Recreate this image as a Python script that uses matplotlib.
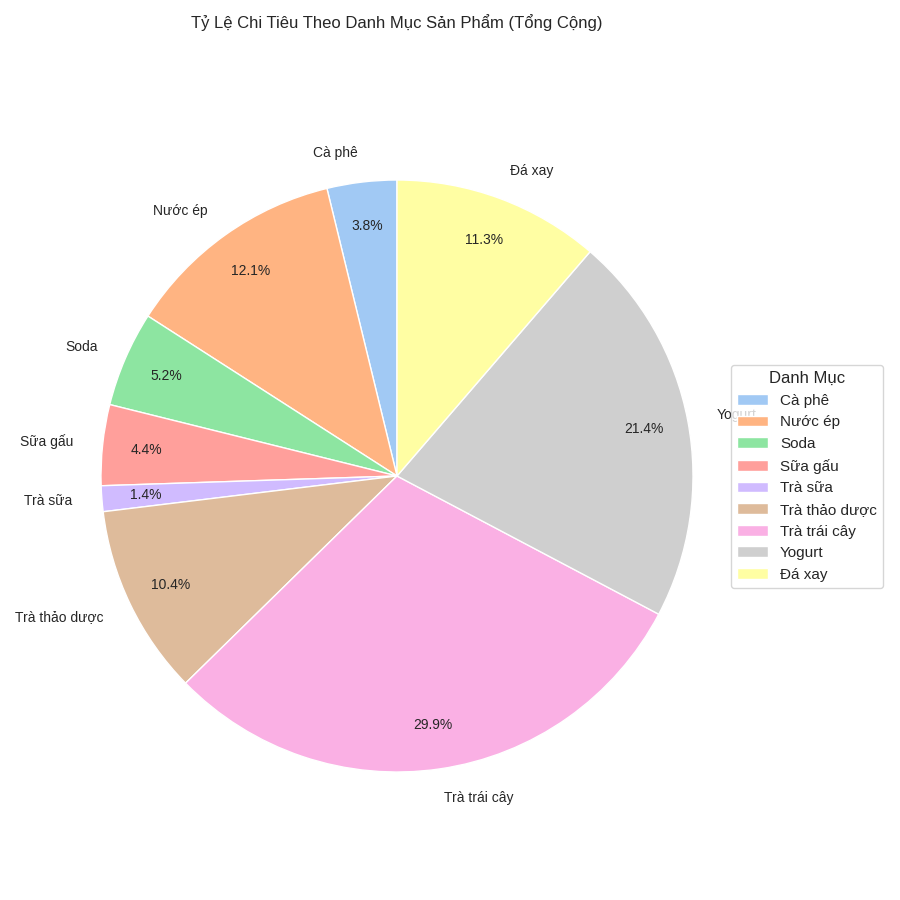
import matplotlib
matplotlib.use("Agg")
import matplotlib.pyplot as plt
import seaborn as sns

sns.set_style("whitegrid")
plt.rcParams['font.family'] = ['Liberation Sans', 'DejaVu Sans']

# danh muc va ty le chi tieu (%)
categories = ["Cà phê", "Nước ép", "Soda", "Sữa gấu", "Trà sữa",
              "Trà thảo dược", "Trà trái cây", "Yogurt", "Đá xay"]
shares = [3.8, 12.1, 5.2, 4.4, 1.4, 10.4, 29.9, 21.4, 11.3]

colors = sns.color_palette("pastel", len(categories))

fig = plt.figure(figsize=(9, 9), dpi=100)
# pie center ~ (397, 476) px, radius ~296 px
ax = fig.add_axes([27 / 900, (900 - 846) / 900, 740 / 900, 740 / 900])

wedges, texts, autotexts = ax.pie(
    shares, labels=categories, colors=colors, autopct="%1.1f%%",
    startangle=90, pctdistance=0.85, labeldistance=1.1,
    wedgeprops=dict(edgecolor="white", linewidth=1),
    textprops=dict(fontsize=10, color="#262626"))

ax.set_title("Tỷ Lệ Chi Tiêu Theo Danh Mục Sản Phẩm (Tổng Cộng)",
             fontsize=12, pad=56, color="#262626")

leg = ax.legend(wedges, categories, title="Danh Mục", loc="center left",
                bbox_to_anchor=(731 / 900, 1 - 476.5 / 900),
                bbox_transform=fig.transFigure, borderaxespad=0,
                fontsize=11, title_fontsize=12)

fig.savefig("out.png", dpi=100)
